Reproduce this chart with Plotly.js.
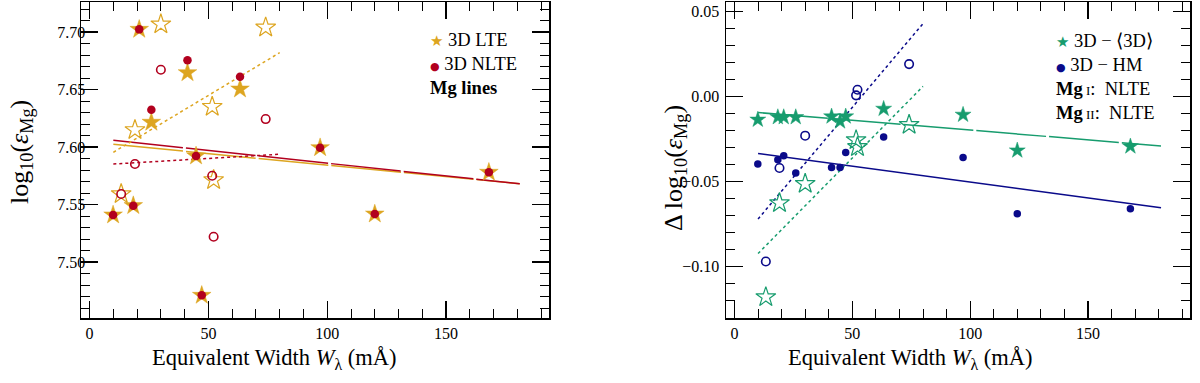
<!DOCTYPE html>
<html>
<head>
<meta charset="utf-8">
<script src="https://cdn.plot.ly/plotly-3.0.1.min.js"></script>
<style>
  html, body { margin: 0; padding: 0; background: #fff; }
  #plot { width: 1200px; height: 383px; }
</style>
</head>
<body>
<div id="plot"></div>
<script>
// equivalent widths (mA) of the lines, filled = Mg I, open = Mg II
var ewFilled = [9.9, 18.4, 20.9, 26.0, 41.2, 44.8, 47.2, 63.3, 97.0, 120.0, 168.0];
var ewOpen = [13.3, 19.1, 30.0, 51.6, 52.2, 74.1];

// left panel: abundances
var lteFilled = [7.5409, 7.549, 7.7023, 7.6215, 7.6646, 7.5922, 7.471, 7.6504, 7.5994, 7.5417, 7.578];
var nlteFilled = [7.5409, 7.549, 7.7023, 7.6324, 7.6754, 7.5922, 7.471, 7.6611, 7.5994, 7.5417, 7.578];
var lteOpen = [7.5591, 7.6148, 7.7067, 7.635, 7.5713, 7.704];
var nlteOpen = [7.5591, 7.5852, 7.6672, 7.575, 7.522, 7.6243];

// right panel: abundance differences
var d3dFilled = [-0.0135, -0.012, -0.012, -0.012, -0.0116, -0.0145, -0.0116, -0.0071, -0.0106, -0.0316, -0.0292];
var dhmFilled = [-0.0396, -0.037, -0.0347, -0.0449, -0.0416, -0.0416, -0.0328, -0.0237, -0.0357, -0.0688, -0.0659];
var d3dOpen = [-0.1178, -0.0625, -0.0512, -0.0255, -0.0295, -0.0165];
var dhmOpen = [-0.0969, -0.0419, -0.0229, 0.0008, 0.0041, 0.0192];

// linear fits (end points)
var fitAllX = [10, 181];
var fitOpenX = [10, 80];
var lteFit = [7.6023, 7.568];
var nlteFit = [7.6058, 7.568];
var lteOpenFit = [7.5954, 7.682];
var nlteOpenFit = [7.5852, 7.5937];
var d3dFit = [-0.0093, -0.0289];
var dhmFit = [-0.0334, -0.0653];
var d3dOpenFit = [-0.0922, 0.0061];
var dhmOpenFit = [-0.0719, 0.0430];

var gold = '#DDA520';
var red = '#B2001E';
var green = '#179C6E';
var navy = '#0A0A8A';
var font = '"Liberation Serif", "Times New Roman", serif';

function line(x, y, color, dash, xa, ya) {
    return {x: x, y: y, mode: 'lines', type: 'scatter', xaxis: xa, yaxis: ya,
        line: {color: color, width: 1.5, dash: dash}, showlegend: false, hoverinfo: 'skip'};
}

var longdash = '70px,3px';

var data = [
    line(fitAllX, lteFit, gold, longdash, 'x', 'y'),
    line(fitAllX, nlteFit, red, longdash, 'x', 'y'),
    line(fitOpenX, lteOpenFit, gold, 'dot', 'x', 'y'),
    line(fitOpenX, nlteOpenFit, red, 'dot', 'x', 'y'),
    {x: ewFilled, y: lteFilled, mode: 'markers', type: 'scatter', name: '3D LTE',
        marker: {symbol: 'star', size: 14, color: gold, line: {color: gold, width: 0.5}}},
    {x: ewOpen, y: lteOpen, mode: 'markers', type: 'scatter',
        marker: {symbol: 'star-open', size: 15, color: gold, line: {width: 1.2}}},
    {x: ewFilled, y: nlteFilled, mode: 'markers', type: 'scatter', name: '3D NLTE',
        marker: {symbol: 'circle', size: 8.5, color: red}},
    {x: ewOpen, y: nlteOpen, mode: 'markers', type: 'scatter',
        marker: {symbol: 'circle-open', size: 8.5, color: red, line: {width: 1.6}}},

    line(fitAllX, d3dFit, green, longdash, 'x2', 'y2'),
    line(fitAllX, dhmFit, navy, 'solid', 'x2', 'y2'),
    line(fitOpenX, d3dOpenFit, green, 'dot', 'x2', 'y2'),
    line(fitOpenX, dhmOpenFit, navy, 'dot', 'x2', 'y2'),
    {x: ewFilled, y: d3dFilled, mode: 'markers', type: 'scatter', xaxis: 'x2', yaxis: 'y2',
        marker: {symbol: 'star', size: 12, color: green, line: {color: green, width: 0.5}}},
    {x: ewOpen, y: d3dOpen, mode: 'markers', type: 'scatter', xaxis: 'x2', yaxis: 'y2',
        marker: {symbol: 'star-open', size: 15, color: green, line: {width: 1.2}}},
    {x: ewFilled, y: dhmFilled, mode: 'markers', type: 'scatter', xaxis: 'x2', yaxis: 'y2',
        marker: {symbol: 'circle', size: 7.5, color: navy}},
    {x: ewOpen, y: dhmOpen, mode: 'markers', type: 'scatter', xaxis: 'x2', yaxis: 'y2',
        marker: {symbol: 'circle-open', size: 8.5, color: navy, line: {width: 1.6}}}
];

function xax(domain, anchor) {
    return {domain: domain, anchor: anchor, range: [-3.6, 193.3], tick0: 0, dtick: 50,
        showline: true, linecolor: '#000', linewidth: 1.5, mirror: 'allticks',
        ticks: 'inside', ticklen: 17, tickwidth: 1.2, tickcolor: '#000',
        minor: {ticks: 'inside', ticklen: 9, tickwidth: 1, dtick: 10, tick0: 0, tickcolor: '#000', showgrid: false},
        showgrid: false, zeroline: false, ticklabelstandoff: 0,
        tickfont: {family: font, size: 16, color: '#000'}};
}
function yax(domain, anchor, range, tick0, standoff) {
    return {domain: domain, anchor: anchor, range: range, tick0: tick0, dtick: 0.05, tickformat: '.2f',
        showline: true, linecolor: '#000', linewidth: 1.5, mirror: 'allticks',
        ticks: 'inside', ticklen: 17, tickwidth: 1.2, tickcolor: '#000',
        minor: {ticks: 'inside', ticklen: 9, tickwidth: 1, dtick: 0.01, tickcolor: '#000', showgrid: false},
        showgrid: false, zeroline: false, ticklabelstandoff: standoff,
        tickfont: {family: font, size: 16, color: '#000'}};
}

// helper for texts placed in pixel positions of the page
function note(text, px, py, size, extra) {
    var a = {text: text, xref: 'paper', yref: 'paper', x: px / 1200, y: (318 - py) / 316,
        xanchor: 'left', yanchor: 'middle', showarrow: false, font: {family: font, size: size, color: '#000'}};
    return Object.assign(a, extra || {});
}

function key(color, glyph, gsize, label) {
    return '<span style="color:' + color + ';font-size:' + gsize + 'px;font-family:DejaVu Sans">' + glyph + '</span> ' + label;
}

var leftKey = [
    key(gold, '\u2605', 15, '3D LTE'),
    key(red, '\u25cf', 11, '3D NLTE'),
    '<b>Mg lines</b>'
].join('<br>');

var rightKey = [
    key(green, '\u2605', 15, '3D \u2212 \u27e83D\u27e9'),
    key(navy, '\u25cf', 11, '3D \u2212 HM'),
    '<b>Mg</b><span style="font-size:13px"> I</span>:  NLTE',
    '<b>Mg</b><span style="font-size:13px"> II</span>:  NLTE'
].join('<br>');

var layout = {
    width: 1200, height: 383,
    margin: {l: 0, r: 0, t: 2, b: 65},
    paper_bgcolor: '#fff', plot_bgcolor: '#fff',
    font: {family: font, color: '#000'},
    showlegend: false,
    xaxis: xax([81 / 1200, 549 / 1200], 'y'),
    yaxis: yax([0, 1], 'x', [7.4513, 7.7261], 7.5, -9),
    xaxis2: xax([726 / 1200, 1190 / 1200], 'y2'),
    yaxis2: yax([0, 1], 'x2', [-0.1301, 0.0557], 0, 2),
    annotations: [
        note(leftKey, 428, 28, 18.5, {yanchor: 'top', align: 'left'}),
        note(rightKey, 1054, 29, 18.5, {yanchor: 'top', align: 'left'}),
        note('Equivalent Width <i>W</i><sub>\u03bb</sub> (m\u00c5)', 274, 359, 22.5, {xanchor: 'center'}),
        note('Equivalent Width <i>W</i><sub>\u03bb</sub> (m\u00c5)', 910, 359, 22.5, {xanchor: 'center'}),
        note('log<sub>10</sub>(<i>\u03b5</i><sub>Mg</sub>)', 21, 152, 26, {xanchor: 'center', textangle: -90}),
        note('\u0394 log<sub>10</sub>(<i>\u03b5</i><sub>Mg</sub>)', 675, 168, 26, {xanchor: 'center', textangle: -90})
    ]
};

Plotly.newPlot('plot', data, layout, {staticPlot: true});
</script>
</body>
</html>
